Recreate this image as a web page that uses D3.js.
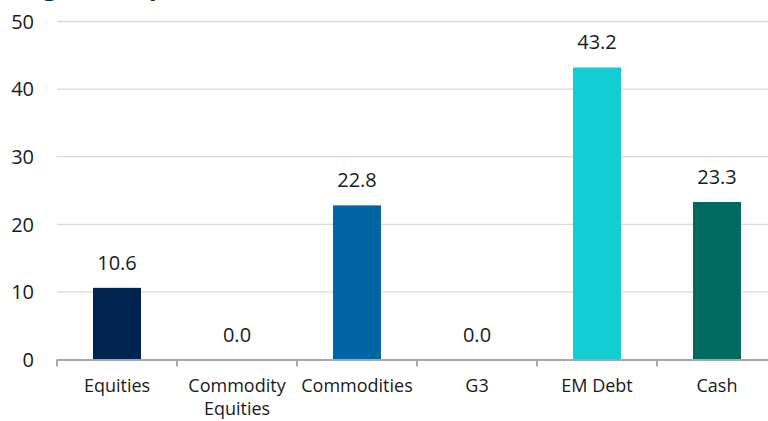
<!DOCTYPE html>
<html>
<head>
<meta charset="utf-8">
<script src="https://cdn.jsdelivr.net/npm/d3@7"></script>
<style>
  body { margin: 0; background: #fff; }
  svg text { font-family: "Open Sans", "Noto Sans", sans-serif; }
</style>
</head>
<body>
<div id="chart"></div>
<script>
var categories = ["Equities", "Commodity Equities", "Commodities", "G3", "EM Debt", "Cash"];
var tickLabels = [["Equities"], ["Commodity", "Equities"], ["Commodities"], ["G3"], ["EM Debt"], ["Cash"]];
var values = [10.6, 0.0, 22.8, 0.0, 43.2, 23.3];
var barColors = ["#00234f", "#0065a2", "#0065a2", "#0065a2", "#13cdd5", "#006a61"];
var yTicks = [0, 10, 20, 30, 40, 50];

var W = 768, H = 421;
var margin = {left: 57, top: 21.5, bottom: 359.5};

var svg = d3.select("#chart").append("svg")
            .attr("width", W)
            .attr("height", H);

// title sits mostly above the picture, only descenders show
svg.append("text")
   .attr("x", 0)
   .attr("y", -5.5)
   .attr("font-size", 26)
   .attr("font-weight", "bold")
   .attr("fill", "#0b2a5c")
   .text("Target Composition");

var x = d3.scaleBand()
          .domain(categories)
          .range([margin.left, margin.left + 120 * categories.length])
          .paddingInner(0)
          .paddingOuter(0);

var y = d3.scaleLinear()
          .domain([0, 50])
          .range([margin.bottom, margin.top]);

// gridlines
svg.append("g").selectAll("line")
   .data(yTicks.filter(d => d > 0))
   .enter()
   .append("line")
   .attr("x1", margin.left)
   .attr("x2", W)
   .attr("y1", d => y(d))
   .attr("y2", d => y(d))
   .attr("stroke", "#d9d9d9")
   .attr("stroke-width", 1.3);

// y labels
svg.append("g").selectAll("text")
   .data(yTicks)
   .enter()
   .append("text")
   .attr("x", 34)
   .attr("y", d => y(d))
   .attr("dy", "0.36em")
   .attr("text-anchor", "end")
   .attr("font-size", 20)
   .attr("fill", "#1a1a1a")
   .text(d => d);

// bars
var barW = 48;
svg.append("g").selectAll("rect")
   .data(values)
   .enter()
   .append("rect")
   .attr("x", (d, i) => x(categories[i]) + x.bandwidth() / 2 - barW / 2)
   .attr("y", d => y(d))
   .attr("width", barW)
   .attr("height", d => y(0) - y(d))
   .attr("fill", (d, i) => barColors[i]);

// value labels
svg.append("g").selectAll("text")
   .data(values)
   .enter()
   .append("text")
   .attr("x", (d, i) => x(categories[i]) + x.bandwidth() / 2)
   .attr("y", d => y(d) - 18)
   .attr("text-anchor", "middle")
   .attr("font-size", 20)
   .attr("fill", "#1a1a1a")
   .text(d => d3.format(".1f")(d));

// x axis line and ticks
svg.append("line")
   .attr("x1", margin.left)
   .attr("x2", W)
   .attr("y1", y(0) + 0.5)
   .attr("y2", y(0) + 0.5)
   .attr("stroke", "#a6a6a6")
   .attr("stroke-width", 2);

svg.append("g").selectAll("line")
   .data(categories)
   .enter()
   .append("line")
   .attr("x1", d => x(d))
   .attr("x2", d => x(d))
   .attr("y1", y(0))
   .attr("y2", y(0) + 7)
   .attr("stroke", "#a6a6a6")
   .attr("stroke-width", 2);

// x labels
var xl = svg.append("g").selectAll("text")
   .data(tickLabels)
   .enter()
   .append("text")
   .attr("text-anchor", "middle")
   .attr("font-size", 18)
   .attr("fill", "#1a1a1a");

xl.each(function(lines, i) {
  var t = d3.select(this);
  lines.forEach(function(s, k) {
    t.append("tspan")
     .attr("x", x(categories[i]) + x.bandwidth() / 2)
     .attr("y", 392 + k * 23)
     .text(s);
  });
});
</script>
</body>
</html>
